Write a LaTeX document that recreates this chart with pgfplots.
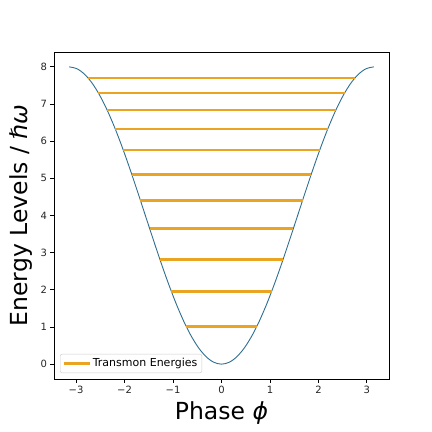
\documentclass[border=0pt]{standalone}
\usepackage{pgfplots}
\pgfplotsset{compat=1.18}
\usepackage{fontspec}
\setmainfont{DejaVu Sans}
\definecolor{potblue}{HTML}{2F6E90}
\definecolor{levorange}{HTML}{EBA422}
\begin{document}
\begin{tikzpicture}
\path[use as bounding box] (-54pt,-53pt) rectangle (378pt,379pt);
\begin{axis}[
  at={(0,0)}, anchor=south west,
  scale only axis,
  width=335pt, height=327pt,
  xmin=-3.456, xmax=3.456,
  ymin=-0.4, ymax=8.4,
  xtick={-3,-2,-1,0,1,2,3},
  xticklabels={−3,−2,−1,0,1,2,3},
  ytick={0,1,2,3,4,5,6,7,8},
  yticklabels={0,1,2,3,4,5,6,7,8},
  tick align=outside,
  tick pos=left,
  major tick length=3.5pt,
  every tick/.style={black, line width=0.8pt},
  axis line style={line width=0.8pt},
  tick label style={font=\fontsize{10}{12}\selectfont, text=black!85},
  xlabel={Phase \textit{ϕ}},
  ylabel={Energy Levels / \textit{ℏω}},
  label style={font=\fontsize{23.5}{28}\selectfont},
  xlabel style={yshift=-1pt},
  ylabel style={yshift=1pt},
  legend cell align=left,
  legend style={font=\fontsize{11}{13}\selectfont, draw=black!20, rounded corners=2pt,
    at={(0.018,0.018)}, anchor=south west, inner sep=2.5pt},
  legend image code/.code={\draw[#1, line width=2.5pt] (0cm,0cm) -- (0.9cm,0cm);},
]
% potential 4(1 - cos phi), sampled every pi/20
\addplot[potblue, line width=0.9pt, smooth, forget plot] coordinates {
(-3.14159,8) (-2.98451,7.95076) (-2.82743,7.80423) (-2.67035,7.56403)
(-2.51327,7.23607) (-2.35619,6.82843) (-2.19911,6.35114) (-2.04204,5.81596)
(-1.88496,5.23607) (-1.72788,4.62573) (-1.57080,4) (-1.41372,3.37427)
(-1.25664,2.76393) (-1.09956,2.18404) (-0.94248,1.64886) (-0.78540,1.17157)
(-0.62832,0.76393) (-0.47124,0.43597) (-0.31416,0.19577) (-0.15708,0.04924)
(0,0)
(0.15708,0.04924) (0.31416,0.19577) (0.47124,0.43597) (0.62832,0.76393)
(0.78540,1.17157) (0.94248,1.64886) (1.09956,2.18404) (1.25664,2.76393)
(1.41372,3.37427) (1.57080,4) (1.72788,4.62573) (1.88496,5.23607)
(2.04204,5.81596) (2.19911,6.35114) (2.35619,6.82843) (2.51327,7.23607)
(2.67035,7.56403) (2.82743,7.80423) (2.98451,7.95076) (3.14159,8)
};
% energy levels
\addplot[levorange, line width=2.5pt] coordinates {(-0.726,1.009) (0.726,1.009)};
\addlegendentry{Transmon Energies}
\addplot[levorange, line width=2.5pt, forget plot] coordinates {(-1.034,1.955) (1.034,1.955)};
\addplot[levorange, line width=2.5pt, forget plot] coordinates {(-1.269,2.811) (1.269,2.811)};
\addplot[levorange, line width=2.5pt, forget plot] coordinates {(-1.483,3.649) (1.483,3.649)};
\addplot[levorange, line width=2.5pt, forget plot] coordinates {(-1.672,4.405) (1.672,4.405)};
\addplot[levorange, line width=2.5pt, forget plot] coordinates {(-1.852,5.108) (1.852,5.108)};
\addplot[levorange, line width=2.5pt, forget plot] coordinates {(-2.026,5.757) (2.026,5.757)};
\addplot[levorange, line width=2.5pt, forget plot] coordinates {(-2.191,6.324) (2.191,6.324)};
\addplot[levorange, line width=2.5pt, forget plot] coordinates {(-2.360,6.838) (2.360,6.838)};
\addplot[levorange, line width=2.5pt, forget plot] coordinates {(-2.539,7.297) (2.539,7.297)};
\addplot[levorange, line width=2.5pt, forget plot] coordinates {(-2.754,7.703) (2.754,7.703)};
\end{axis}
\end{tikzpicture}
\end{document}
